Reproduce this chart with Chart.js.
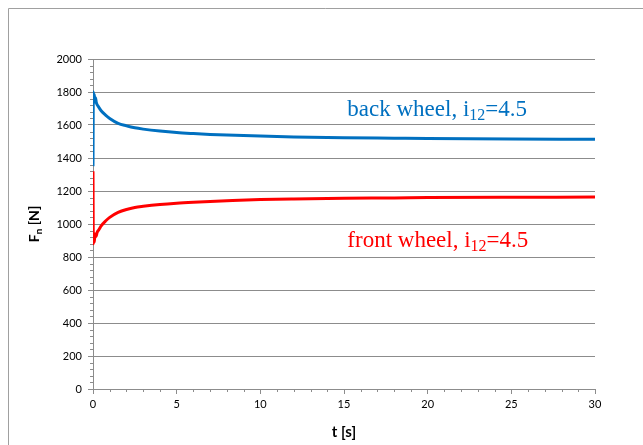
<!DOCTYPE html>
<html>
<head>
<meta charset="utf-8">
<script src="https://cdn.jsdelivr.net/npm/chart.js@4"></script>
<style>
  html, body { margin: 0; padding: 0; background: #fff; }
  #box { width: 643px; height: 445px; }
</style>
</head>
<body>
<div id="box"><canvas id="grafico" width="643" height="445"></canvas></div>
<script>
// valores (t em s, F em N)
const tBack = [0, 0.02, 0.05, 0.08, 0.11, 0.15, 0.2, 0.3, 0.5, 0.75, 1, 1.5, 2, 2.5, 3, 4, 5, 6, 7, 8, 10, 12, 15, 18, 20, 25, 30];
const fBack = [1350, 1800, 1745, 1785, 1740, 1765, 1735, 1715, 1685, 1660, 1640, 1610, 1595, 1583, 1575, 1563, 1554, 1548, 1543, 1539, 1533, 1528, 1523, 1520, 1518, 1515, 1513];
const tFront = [0, 0.02, 0.05, 0.08, 0.12, 0.18, 0.25, 0.35, 0.5, 0.75, 1, 1.5, 2, 2.5, 3, 4, 5, 6, 7, 8, 10, 12, 15, 18, 20, 25, 30];
const fFront = [1320, 880, 930, 890, 940, 925, 950, 965, 990, 1018, 1040, 1070, 1088, 1100, 1107, 1118, 1126, 1132, 1137, 1141, 1148, 1152, 1156, 1158, 1160, 1162, 1163];
const xTicks = [0, 5, 10, 15, 20, 25, 30];
const yTicks = [0, 200, 400, 600, 800, 1000, 1200, 1400, 1600, 1800, 2000];

const cinza = "#8c8c8c";

// moldura, ticks menores, título do eixo y e rótulos das curvas
const extras = {
    id: "extras",
    beforeDraw(chart) {
        const c = chart.ctx;
        c.save();
        c.strokeStyle = "#a0a0a0";
        c.lineWidth = 1;
        c.beginPath();
        c.moveTo(8.5, 445);
        c.lineTo(8.5, 8.5);
        c.lineTo(643, 8.5);
        c.stroke();
        c.restore();
    },
    afterDraw(chart) {
        const c = chart.ctx;
        const x = chart.scales.x, y = chart.scales.y;
        const a = chart.chartArea;
        c.save();
        c.strokeStyle = cinza;
        c.lineWidth = 1;
        c.beginPath();
        for (let v = 0; v <= 2000; v += 40) {
            if (v % 200 === 0) continue;
            const py = Math.round(y.getPixelForValue(v)) + 0.5;
            c.moveTo(a.left - 3, py);
            c.lineTo(a.left, py);
        }
        for (let v = 0; v <= 30; v += 1) {
            if (v % 5 === 0) continue;
            const px = Math.round(x.getPixelForValue(v)) + 0.5;
            c.moveTo(px, a.bottom);
            c.lineTo(px, a.bottom + 3);
        }
        c.stroke();

        // título do eixo y com subscrito
        c.fillStyle = "#000";
        c.translate(39, (a.top + a.bottom) / 2);
        c.rotate(-Math.PI / 2);
        c.textBaseline = "alphabetic";
        c.font = "bold 14px Lato";
        const w1 = c.measureText("F").width;
        c.font = "bold 10px Lato";
        const w2 = c.measureText("n").width;
        c.font = "bold 14px Lato";
        const w3 = c.measureText(" [N]").width;
        let sx = -(w1 + w2 + w3) / 2;
        c.fillText("F", sx, 0);
        c.font = "bold 10px Lato";
        c.fillText("n", sx + w1, 3);
        c.font = "bold 14px Lato";
        c.fillText(" [N]", sx + w1 + w2, 0);
        c.restore();

        // rótulos das curvas
        const rotulo = (txt, tx, ty, cor) => {
            c.save();
            c.fillStyle = cor;
            let px = x.getPixelForValue(tx);
            const py = y.getPixelForValue(ty);
            c.font = "23px 'Liberation Serif'";
            c.fillText(txt + ", i", px, py);
            px += c.measureText(txt + ", i").width;
            c.font = "16px 'Liberation Serif'";
            c.fillText("12", px, py + 4);
            px += c.measureText("12").width;
            c.font = "23px 'Liberation Serif'";
            c.fillText("=4.5", px, py);
            c.restore();
        };
        rotulo("back wheel", 15.2, 1655, "#0070c0");
        rotulo("front wheel", 15.2, 863, "#ff0000");
    }
};

const grafico = document.getElementById("grafico").getContext("2d");
new Chart(grafico, {
    type: "line",
    data: {
        datasets: [{
            label: "back wheel",
            data: tBack.map((t, i) => ({ x: t, y: fBack[i] })),
            borderColor: "#0070c0",
            borderWidth: 3,
            pointRadius: 0,
            cubicInterpolationMode: "monotone"
        }, {
            label: "front wheel",
            data: tFront.map((t, i) => ({ x: t, y: fFront[i] })),
            borderColor: "#ff0000",
            borderWidth: 3,
            pointRadius: 0,
            cubicInterpolationMode: "monotone"
        }]
    },
    options: {
        responsive: false,
        animation: false,
        layout: { padding: { top: 59, right: 48, left: 0, bottom: 0 } },
        plugins: { legend: { display: false }, tooltip: { enabled: false } },
        scales: {
            x: {
                type: "linear",
                min: 0, max: 30,
                afterBuildTicks: s => { s.ticks = xTicks.map(v => ({ value: v })); },
                afterFit: s => { s.height = 56; },
                ticks: { color: "#000", font: { family: "Lato", size: 11 }, padding: 4, maxRotation: 0, callback: v => String(v) },
                grid: { drawOnChartArea: false, color: cinza, tickLength: 5 },
                border: { color: cinza },
                title: { display: true, text: "t [s]", color: "#000", font: { family: "Lato", size: 15, weight: "bold" }, padding: { top: 6 } }
            },
            y: {
                min: 0, max: 2000,
                afterBuildTicks: s => { s.ticks = yTicks.map(v => ({ value: v })); },
                afterFit: s => { s.width = 93; },
                ticks: { color: "#000", font: { family: "Lato", size: 11 }, padding: 6, callback: v => String(v) },
                grid: { color: cinza, tickLength: 5 },
                border: { color: cinza }
            }
        }
    },
    plugins: [extras]
});
</script>
</body>
</html>
